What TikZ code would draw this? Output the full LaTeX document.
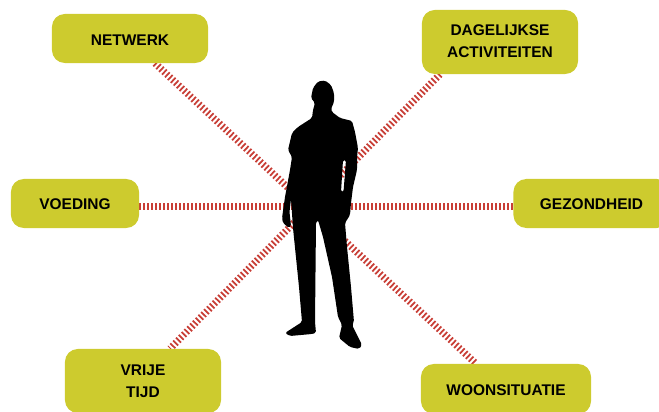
\documentclass[tikz,border=0pt]{standalone}
\usepackage{fontspec}
\setmainfont{Liberation Sans}
\usetikzlibrary{backgrounds}

\definecolor{boxlime}{RGB}{205,203,46}
\definecolor{spokered}{RGB}{200,62,54}

\tikzset{
  topicbox/.style={fill=boxlime, rounded corners=0.32cm, align=center, inner sep=0pt,
    font=\fontsize{11}{15.6}\selectfont\bfseries},
  oneline/.style={text height=9.3pt},
  spokeline/.style={draw=spokered, line width=5pt, dash pattern=on 1.25pt off 1.595pt},
}

\begin{document}
\begin{tikzpicture}[x=0.025cm, y=-0.025cm]

\path[use as bounding box, clip] (0,0) rectangle (659,412);

% ── Topics ──
\node[topicbox, oneline, minimum width=3.9cm, minimum height=1.225cm] (netwerk) at (130,38.5) {NETWERK};
\node[topicbox, minimum width=3.9cm, minimum height=1.6cm, text depth=1.4pt] (dagelijkse) at (500,42) {DAGELIJKSE\\ACTIVITEITEN};
\node[topicbox, oneline, minimum width=3.2cm, minimum height=1.225cm] (voeding) at (75,203.5) {VOEDING};
\node[topicbox, oneline, minimum width=3.9cm, minimum height=1.225cm] (gezondheid) at (591.5,203.5) {GEZONDHEID};
\node[topicbox, minimum width=3.9cm, minimum height=1.6cm] (vrijetijd) at (143,381) {VRIJE\\TIJD};
\node[topicbox, oneline, minimum width=4.25cm, minimum height=1.25cm] (woonsituatie) at (506,389) {WOONSITUATIE};

% ── Spokes ──
\begin{scope}[on background layer]
  \draw[spokeline] ([xshift=0.625cm]netwerk.south) -- ([xshift=-0.75cm]woonsituatie.north);
  \draw[spokeline] ([xshift=-1.5cm]dagelijkse.south) -- ([xshift=0.675cm]vrijetijd.north);
  \draw[spokeline] ([yshift=-2pt]voeding.east) -- ([yshift=-2pt]gezondheid.west);
\end{scope}

% ── Silhouette ──
\fill[black, rounded corners=1.2pt, even odd rule]
  (325,80.5) -- (331,85) -- (334,93) -- (334,102) -- (331,109) -- (332,112) -- (340,118)
  -- (352,121) -- (355,132) -- (358,148) -- (357,157) -- (357,170) -- (353,187)
  -- (351,203) -- (350,215) -- (345,223) -- (347,247) -- (351,287) -- (354,322)
  -- (352,325) -- (362,345) -- (359,349) -- (350,347) -- (339,338) -- (342,325)
  -- (338,317) -- (332,277) -- (323,237) -- (318,220) -- (316,222) -- (315,322)
  -- (316,333) -- (312,334) -- (290,336) -- (285,333) -- (302,322) -- (299,287)
  -- (293,228) -- (291,199) -- (289.5,212) -- (291,226) -- (289,228) -- (283,223)
  -- (282,218) -- (285,197) -- (290,170) -- (292,157) -- (288,150) -- (292,133)
  -- (298,127) -- (312,118) -- (313,110) -- (315,103) -- (311,98) -- (313,88)
  -- (318,81.5) -- cycle
  (343,160) -- (346,160) -- (343.5,192) -- (341,192) -- cycle;

\end{tikzpicture}
\end{document}
